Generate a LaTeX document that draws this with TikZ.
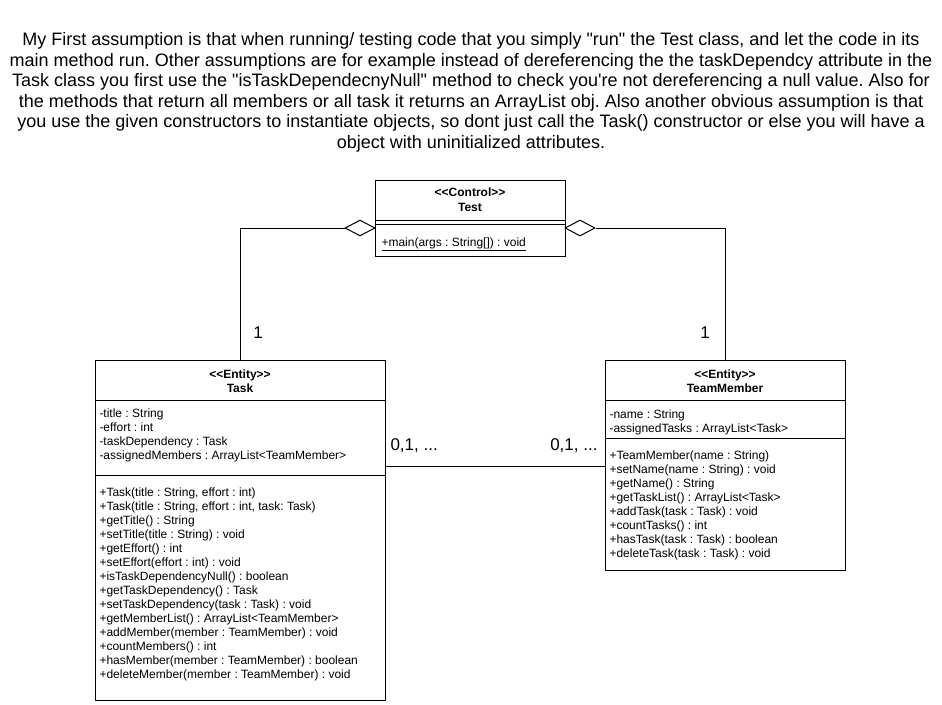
\documentclass[tikz,border=0pt]{standalone}
\usepackage{fontspec}
\newfontfamily\arial{Liberation Sans}
\usetikzlibrary{shapes.geometric}
\begin{document}
\frenchspacing
\begin{tikzpicture}[x=1pt,y=-1pt,line width=1pt,
  box/.style={draw,rectangle,inner sep=0pt,anchor=north west},
  txt/.style={inner sep=0pt,anchor=base west,font=\arial\fontsize{12}{14}\selectfont},
  hdr/.style={inner sep=0pt,anchor=base,font=\arial\fontsize{12}{14}\selectfont\bfseries},
  para/.style={inner sep=0pt,anchor=base,font=\arial\fontsize{18}{20}\selectfont},
  mult/.style={inner sep=0pt,font=\arial\fontsize{17}{20}\selectfont},
  agg/.style={draw,diamond,fill=white,inner sep=0pt,minimum width=30pt,minimum height=16pt}]
\fill[white] (0,0) rectangle (942,704);
\useasboundingbox (0,0) rectangle (942,704);

% paragraph
\foreach \s [count=\i from 0] in {
 {My First assumption is that when running/ testing code that you simply "run" the Test class, and let the code in its},
 {main method run. Other assumptions are for example instead of dereferencing the the taskDependcy attribute in the},
 {Task class you first use the "isTaskDependecnyNull" method to check you're not dereferencing a null value. Also for},
 {the methods that return all members or all task it returns an ArrayList obj. Also another obvious assumption is that},
 {you use the given constructors to instantiate objects, so dont just call the Task() constructor or else you will have a},
 {object with uninitialized attributes.}}
 \node[para] (p\i) at (471,45.5+20.6*\i) {\s};

% Test class
\node[box,minimum width=190pt,minimum height=76pt] (test) at (375,180) {};
\draw (test.west |- 0,220) -- (test.east |- 0,220);
\draw (test.west |- 0,224) -- (test.east |- 0,224);
\node[hdr] (testst) at (470,196) {<<Control>>};
\node[hdr] (testnm) at (470,211.5) {Test};
\node[txt] (testm) at (381,246) {\underline{+main(args : String[]) : void}};

% Task class
\node[box,minimum width=290pt,minimum height=340pt] (task) at (95,360) {};
\draw (task.west |- 0,400) -- (task.east |- 0,400);
\draw (task.west |- 0,475) -- (task.east |- 0,475);
\node[hdr] (taskst) at (240,378) {<<Entity>>};
\node[hdr] (tasknm) at (240,392) {Task};
\foreach \s [count=\i from 0] in {{-title : String},{-effort : int},{-taskDependency : Task},{-assignedMembers : ArrayList<TeamMember>}}
 \node[txt] (ta\i) at (99,417+14*\i) {\s};
\foreach \s [count=\i from 0] in {
 {+Task(title : String, effort : int)},
 {+Task(title : String, effort : int, task: Task)},
 {+getTitle() : String},
 {+setTitle(title : String) : void},
 {+getEffort() : int},
 {+setEffort(effort : int) : void},
 {+isTaskDependencyNull() : boolean},
 {+getTaskDependency() : Task},
 {+setTaskDependency(task : Task) : void},
 {+getMemberList() : ArrayList<TeamMember>},
 {+addMember(member : TeamMember) : void},
 {+countMembers() : int},
 {+hasMember(member : TeamMember) : boolean},
 {+deleteMember(member : TeamMember) : void}}
 \node[txt] (tm\i) at (99,496+14*\i) {\s};

% TeamMember class
\node[box,minimum width=240pt,minimum height=210pt] (team) at (605,360) {};
\draw (team.west |- 0,400) -- (team.east |- 0,400);
\draw (team.west |- 0,438) -- (team.east |- 0,438);
\node[hdr] (teamst) at (725,378) {<<Entity>>};
\node[hdr] (teamnm) at (725,392) {TeamMember};
\foreach \s [count=\i from 0] in {{-name : String},{-assignedTasks : ArrayList<Task>}}
 \node[txt] (ma\i) at (609,418+14*\i) {\s};
\foreach \s [count=\i from 0] in {
 {+TeamMember(name : String)},
 {+setName(name : String) : void},
 {+getName() : String},
 {+getTaskList() : ArrayList<Task>},
 {+addTask(task : Task) : void},
 {+countTasks() : int},
 {+hasTask(task : Task) : boolean},
 {+deleteTask(task : Task) : void}}
 \node[txt] (mm\i) at (609,459+14*\i) {\s};

% connectors
\node[agg] (ldia) at (360,228) {};
\node[agg] (rdia) at (580,228) {};
\draw (ldia.west) -| (task.north);
\draw (rdia.east) -| (team.north);
\draw (task.east |- 0,466) -- (team.west |- 0,466);

% multiplicities
\node[mult] (m1) at (258,333) {1};
\node[mult] (m2) at (705,333) {1};
\node[mult,anchor=west] (m3) at (390,446) {0,1, ...};
\node[mult,anchor=east] (m4) at (598,446) {0,1, ...};
\end{tikzpicture}
\end{document}
